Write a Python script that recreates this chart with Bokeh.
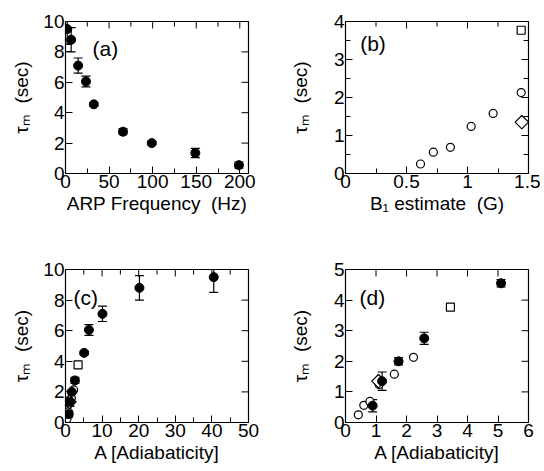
import math
from bokeh.plotting import figure
from bokeh.models import (Range1d, Whisker, TeeHead, ColumnDataSource,
                          Label, FixedTicker)
from bokeh.layouts import column, row
from bokeh.embed import file_html
from bokeh.resources import INLINE

FONT = "Liberation Sans"

# ---- data ----
arp_freq_hz = [2, 6.5, 14.5, 23.5, 32.5, 66, 99, 149, 199]
tau_filled = [9.5, 8.8, 7.1, 6.05, 4.55, 2.75, 2.0, 1.35, 0.55]
tau_filled_err = [1.0, 0.8, 0.5, 0.35, 0.12, 0.2, 0.12, 0.3, 0.2]
A_filled = [40.5, 20.2, 10.1, 6.4, 5.1, 2.58, 1.74, 1.2, 0.89]

b1_open = [0.615, 0.72, 0.86, 1.03, 1.21, 1.44]
tau_open = [0.25, 0.56, 0.69, 1.24, 1.58, 2.13]
A_open = [0.42, 0.6, 0.8, 1.1, 1.6, 2.23]

b1_square = [1.44]
tau_square = [3.77]
A_square = [3.44]

b1_diamond = [1.445]
tau_diamond = [1.35]
A_diamond = [1.08]

# ticks
a_xticks, a_xminor = [0, 50, 100, 150, 200], [25, 75, 125, 175]
a_yticks = [0, 2, 4, 6, 8, 10]
b_xticks, b_xminor = [0, 0.5, 1, 1.5], [0.25, 0.75, 1.25]
b_yticks, b_yminor = [0, 1, 2, 3, 4], [0.5, 1.5, 2.5, 3.5]
c_xticks, c_xminor = [0, 10, 20, 30, 40, 50], [5, 15, 25, 35, 45]
c_yticks = [0, 2, 4, 6, 8, 10]
d_xticks = [0, 1, 2, 3, 4, 5, 6]
d_yticks = [0, 1, 2, 3, 4, 5]

YLABEL = "\u03c4\u2098\u00a0\u00a0(sec)"
MAJ, MIN = 7, 5


def style_axis(ax, ticks, minor, label, label_standoff):
    ax.ticker = FixedTicker(ticks=ticks, minor_ticks=minor)
    ax.major_tick_in = MAJ
    ax.major_tick_out = 0
    ax.minor_tick_in = MIN
    ax.minor_tick_out = 0
    ax.major_tick_line_color = "black"
    ax.minor_tick_line_color = "black"
    ax.axis_line_color = "black"
    ax.major_label_text_font = FONT
    ax.major_label_text_font_size = "19px"
    ax.major_label_text_color = "black"
    ax.major_label_standoff = 1
    ax.axis_label = label
    ax.axis_label_text_font = FONT
    ax.axis_label_text_font_size = "19px"
    ax.axis_label_text_font_style = "normal"
    ax.axis_label_text_color = "black"
    ax.axis_label_standoff = label_standoff


def mirror_ticks(p, xr, yr, xt, xm, yt, ym):
    # inward ticks on the top and right edges of the frame
    for ticks, ln in ((xt, MAJ), (xm, MIN)):
        if ticks:
            p.ray(x=ticks, y=[yr[1]] * len(ticks), length=ln, length_units="screen",
                  angle=-math.pi / 2, line_color="black", line_width=1)
    for ticks, ln in ((yt, MAJ), (ym, MIN)):
        if ticks:
            p.ray(x=[xr[1]] * len(ticks), y=ticks, length=ln, length_units="screen",
                  angle=math.pi, line_color="black", line_width=1)


def make_fig(w, h, borders, xr, yr, xt, xm, yt, ym, xlabel, ylabel, ystand):
    p = figure(width=w, height=h, x_range=Range1d(*xr), y_range=Range1d(*yr),
               output_backend="svg", toolbar_location=None,
               min_border_left=borders[0], min_border_right=borders[1],
               min_border_top=borders[2], min_border_bottom=borders[3])
    p.grid.visible = False
    p.outline_line_color = "black"
    p.outline_line_width = 1.2
    p.background_fill_color = "white"
    p.border_fill_color = "white"
    style_axis(p.xaxis[0], xt, xm, xlabel, 2)
    style_axis(p.yaxis[0], yt, ym, ylabel, ystand)
    mirror_ticks(p, xr, yr, xt, xm, yt, ym)
    return p


def add_filled(p, xs, ys, errs):
    src = ColumnDataSource(dict(x=xs, y=ys, lo=[y - e for y, e in zip(ys, errs)],
                                hi=[y + e for y, e in zip(ys, errs)]))
    w = Whisker(source=src, base="x", lower="lo", upper="hi", dimension="height",
                line_color="black", line_width=1.2,
                lower_head=TeeHead(size=9, line_color="black", line_width=1.2),
                upper_head=TeeHead(size=9, line_color="black", line_width=1.2))
    p.add_layout(w)
    p.scatter("x", "y", source=src, marker="circle", size=9,
              fill_color="black", line_color="black")


def add_open(p, xs, ys):
    p.scatter(xs, ys, marker="circle", size=8, fill_color="white",
              line_color="black", line_width=1.2)


def add_square(p, xs, ys):
    p.scatter(xs, ys, marker="square", size=8, fill_color="white",
              line_color="black", line_width=1.2)


def add_diamond(p, xs, ys):
    p.scatter(xs, ys, marker="square", size=9.5, angle=math.pi / 4,
              fill_color="white", line_color="black", line_width=1.2)


def panel_label(p, x, y, t):
    p.add_layout(Label(x=x, y=y, text=t, text_font=FONT, text_font_size="21px",
                       text_color="black", text_baseline="middle", text_align="left"))

# (a)
pa = make_fig(272, 240, (65, 24, 21, 67), (0, 210), (0, 10),
              a_xticks, a_xminor, a_yticks, [], "ARP Frequency\u00a0\u00a0(Hz)", YLABEL, 8)
add_filled(pa, arp_freq_hz, tau_filled, tau_filled_err)
panel_label(pa, 31, 8.2, "(a)")

# (b)
pb = make_fig(268, 240, (73, 12, 21, 67), (0, 1.5), (0, 4),
              b_xticks, b_xminor, b_yticks, b_yminor, "B\u2081 estimate\u00a0\u00a0(G)", YLABEL, 20)
add_open(pb, b1_open, tau_open)
add_square(pb, b1_square, tau_square)
add_diamond(pb, b1_diamond, tau_diamond)
panel_label(pb, 0.12, 3.43, "(b)")

# (c)
pc = make_fig(272, 228, (65, 24, 29, 46), (0, 50), (0, 10),
              c_xticks, c_xminor, c_yticks, [], "A [Adiabaticity]", YLABEL, 8)
add_open(pc, A_open, tau_open)
add_square(pc, A_square, tau_square)
add_diamond(pc, A_diamond, tau_diamond)
add_filled(pc, A_filled, tau_filled, tau_filled_err)
panel_label(pc, 2.2, 8.2, "(c)")

# (d)
pd = make_fig(268, 228, (73, 12, 29, 46), (0, 6), (0, 5),
              d_xticks, [], d_yticks, [], "A [Adiabaticity]", YLABEL, 20)
add_open(pd, A_open, tau_open)
add_square(pd, A_square, tau_square)
add_diamond(pd, A_diamond, tau_diamond)
add_filled(pd, A_filled, tau_filled, tau_filled_err)
panel_label(pd, 0.46, 4.07, "(d)")

layout = column(row(pa, pb), row(pc, pd))

with open("out.html", "w") as f:
    f.write(file_html(layout, INLINE))
